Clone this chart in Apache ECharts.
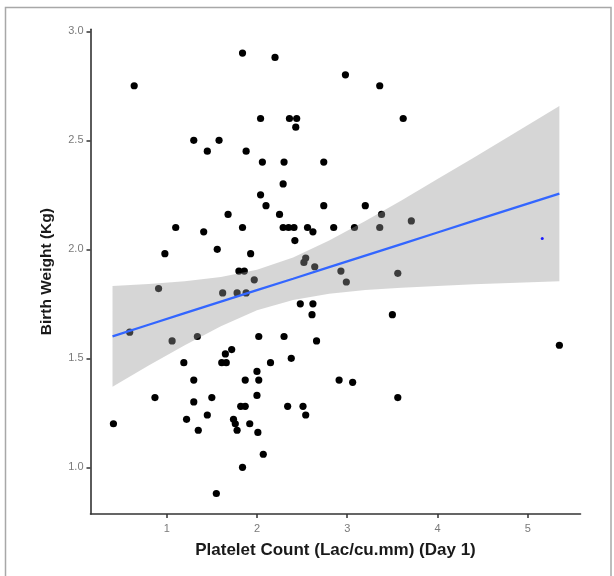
<!DOCTYPE html>
<html>
<head>
<meta charset="utf-8">
<script src="https://cdn.jsdelivr.net/npm/echarts@6/dist/echarts.min.js"></script>
<style>html,body{margin:0;padding:0;background:#fff;}#c{width:614px;height:576px;}</style>
</head>
<body>
<div id="c"></div>
<script>
// Platelet count (Lac/cu.mm, day 1) for each baby
const plateletX = [0.64,1.84,2.20,2.98,3.36,2.04,2.36,2.44,2.43,3.62,
  1.30,1.58,1.45,1.88,2.06,2.30,2.74,2.29,2.04,2.10,
  2.74,3.20,1.68,2.25,3.38,3.71,1.10,1.84,2.29,2.35,
  2.41,2.56,2.62,2.85,3.08,3.36,1.41,2.42,0.98,1.56,
  1.93,2.54,2.52,2.64,1.80,1.86,2.93,3.56,1.97,2.99,
  0.91,1.62,1.78,1.88,2.48,2.62,2.61,3.50,0.59,1.34,
  2.02,2.30,1.06,2.66,5.35,1.72,1.65,2.38,1.19,1.61,
  1.66,2.15,2.00,1.30,1.87,2.02,2.91,3.06,2.00,0.87,
  1.50,3.56,1.30,1.82,1.87,2.34,2.51,1.45,2.54,1.22,
  1.74,1.76,1.78,1.92,0.41,1.35,2.01,2.07,1.84,1.55];
// Birth weight (Kg)
const birthWeight = [2.75,2.90,2.88,2.80,2.75,2.60,2.60,2.60,2.56,2.60,
  2.50,2.50,2.45,2.45,2.40,2.40,2.40,2.30,2.25,2.20,
  2.20,2.20,2.16,2.16,2.16,2.13,2.10,2.10,2.10,2.10,
  2.10,2.10,2.08,2.10,2.10,2.10,2.08,2.04,1.98,2.00,
  1.98,1.96,1.94,1.92,1.90,1.90,1.90,1.89,1.86,1.85,
  1.82,1.80,1.80,1.80,1.75,1.75,1.70,1.70,1.62,1.60,
  1.60,1.60,1.58,1.58,1.56,1.54,1.52,1.50,1.48,1.48,
  1.48,1.48,1.44,1.40,1.40,1.40,1.40,1.39,1.33,1.32,
  1.32,1.32,1.30,1.28,1.28,1.28,1.28,1.24,1.24,1.22,
  1.22,1.20,1.17,1.20,1.20,1.17,1.16,1.06,1.00,0.88];
// small blue artefact dot
const blueDotX = [5.16];
const blueDotY = [2.05];
// fitted line and confidence band
const bandX     = [0.40,0.80,1.20,1.60,2.00,2.40,2.80,3.20,3.60,4.00,4.40,4.80,5.35];
const fitY      = [1.601,1.654,1.707,1.760,1.813,1.865,1.918,1.971,2.024,2.077,2.130,2.183,2.255];
const bandUpper = [1.832,1.841,1.853,1.873,1.906,1.962,2.040,2.130,2.224,2.322,2.420,2.520,2.657];
const bandLower = [1.370,1.467,1.560,1.647,1.720,1.768,1.796,1.813,1.824,1.832,1.840,1.846,1.853];
// tick labels
const xTicks = [1,2,3,4,5];
const yTicks = [1.0,1.5,2.0,2.5,3.0];

const chart = echarts.init(document.getElementById('c'), null, {renderer:'canvas'});
const FONT = '"Liberation Sans", Arial, sans-serif';
const pts = plateletX.map((x,i)=>[x, birthWeight[i]]);
const line = bandX.map((x,i)=>[x, fitY[i]]);

chart.setOption({
  backgroundColor:'#ffffff',
  animation:false,
  graphic:[{type:'rect', shape:{x:5.5,y:7.5,width:605.5,height:600}, style:{fill:'none', stroke:'#a8a8a8', lineWidth:1.5}, silent:true}],
  grid:{left:90.5, top:29.3, width:490, height:484.7},
  xAxis:{
    type:'value', min:0.156, max:5.584,
    name:'Platelet Count (Lac/cu.mm) (Day 1)', nameLocation:'middle', nameGap:28,
    nameTextStyle:{fontFamily:FONT, fontSize:17, fontWeight:'bold', color:'#1a1a1a'},
    axisLine:{show:true, onZero:false, lineStyle:{color:'#333', width:1.6}},
    axisTick:{show:true, length:4, customValues:xTicks, lineStyle:{color:'#333', width:1.5}},
    axisLabel:{customValues:xTicks, margin:9, fontFamily:FONT, fontSize:11, color:'#7a7a7a'},
    splitLine:{show:false}
  },
  yAxis:{
    type:'value', min:0.786, max:3.009,
    name:'Birth Weight (Kg)', nameLocation:'middle', nameGap:36, nameRotate:90,
    nameTextStyle:{fontFamily:FONT, fontSize:15.5, fontWeight:'bold', color:'#1a1a1a'},
    axisLine:{show:true, onZero:false, lineStyle:{color:'#333', width:1.6}},
    axisTick:{show:true, length:4, customValues:yTicks, lineStyle:{color:'#333', width:1.5}},
    axisLabel:{customValues:yTicks, margin:7, fontFamily:FONT, fontSize:11, color:'#7a7a7a',
      formatter:v=>Number(v).toFixed(1)},
    splitLine:{show:false}
  },
  series:[
    {type:'scatter', data:pts, symbol:'circle', symbolSize:7.2, itemStyle:{color:'#000', opacity:1}, z:2},
    {type:'scatter', data:blueDotX.map((x,i)=>[x,blueDotY[i]]), symbolSize:3, itemStyle:{color:'#1a1aff', opacity:1}, z:5},
    {type:'custom', z:3, silent:true, data:[[bandX[0], bandUpper[0]]],
      renderItem:function(params, api){
        const poly=[];
        for(let i=0;i<bandX.length;i++) poly.push(api.coord([bandX[i], bandUpper[i]]));
        for(let i=bandX.length-1;i>=0;i--) poly.push(api.coord([bandX[i], bandLower[i]]));
        return {type:'polygon', shape:{points:poly}, style:{fill:'rgba(153,153,153,0.4)', stroke:'none'}};
      }},
    {type:'line', data:line, showSymbol:false, symbol:'none', smooth:false, z:4,
      lineStyle:{color:'#3366ff', width:2.3}}
  ]
});
</script>
</body>
</html>
